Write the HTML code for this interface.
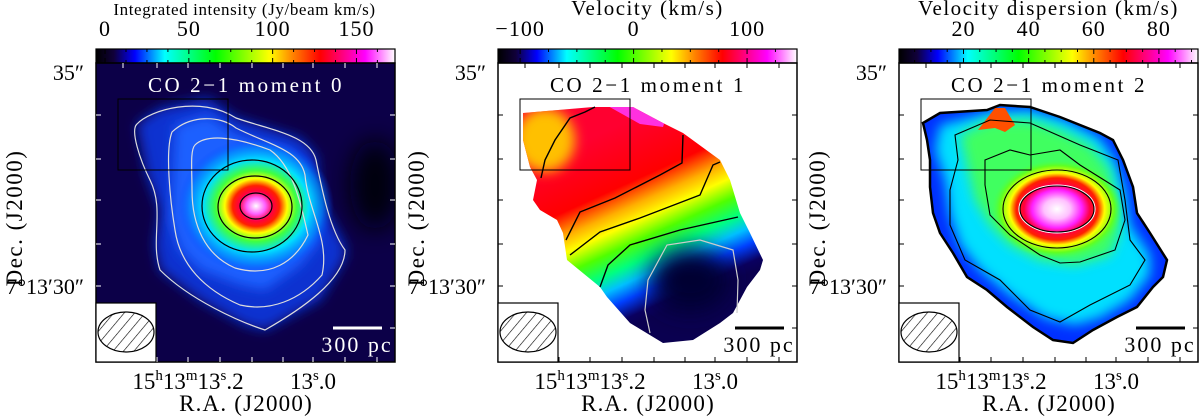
<!DOCTYPE html>
<html><head><meta charset="utf-8">
<style>
html,body{margin:0;padding:0;background:#fff;}
svg{display:block;font-family:"Liberation Serif",serif;}
</style></head>
<body>
<svg id="fig" width="1200" height="417" viewBox="0 0 1200 417" xmlns="http://www.w3.org/2000/svg">
<defs>
  <linearGradient id="cmap" x1="0" x2="1" y1="0" y2="0">
    <stop offset="0" stop-color="#000000"/>
    <stop offset="0.06" stop-color="#10003a"/>
    <stop offset="0.13" stop-color="#0000ff"/>
    <stop offset="0.23" stop-color="#00ffff"/>
    <stop offset="0.40" stop-color="#00ff00"/>
    <stop offset="0.58" stop-color="#ffff00"/>
    <stop offset="0.66" stop-color="#ff8000"/>
    <stop offset="0.75" stop-color="#ff0000"/>
    <stop offset="0.90" stop-color="#ff00ff"/>
    <stop offset="1" stop-color="#ffffff"/>
  </linearGradient>
  <pattern id="hatch" patternUnits="userSpaceOnUse" width="8" height="8" patternTransform="rotate(40)">
    <line x1="0" y1="0" x2="0" y2="8" stroke="#000" stroke-width="1.2"/>
  </pattern>
  <filter id="blur6" x="-50%" y="-50%" width="200%" height="200%"><feGaussianBlur stdDeviation="6"/></filter>
  <filter id="blur12" x="-50%" y="-50%" width="200%" height="200%"><feGaussianBlur stdDeviation="12"/></filter>
  <radialGradient id="peak0" cx="0.5" cy="0.5" r="0.5">
    <stop offset="0" stop-color="#ffffff"/>
    <stop offset="0.12" stop-color="#ff60ff"/>
    <stop offset="0.22" stop-color="#ff0040"/>
    <stop offset="0.3" stop-color="#ff2000"/>
    <stop offset="0.4" stop-color="#ffff00"/>
    <stop offset="0.52" stop-color="#40ff40"/>
    <stop offset="0.68" stop-color="#00e0ff"/>
    <stop offset="0.85" stop-color="#0090ff" stop-opacity="0.7"/>
    <stop offset="1" stop-color="#0040ff" stop-opacity="0"/>
  </radialGradient>
  <linearGradient id="vel" gradientUnits="userSpaceOnUse" x1="612" y1="128" x2="690" y2="300">
    <stop offset="0" stop-color="#ff0030"/>
    <stop offset="0.3" stop-color="#ff0000"/>
    <stop offset="0.42" stop-color="#ffb000"/>
    <stop offset="0.5" stop-color="#ffff00"/>
    <stop offset="0.6" stop-color="#50ff00"/>
    <stop offset="0.7" stop-color="#00ff80"/>
    <stop offset="0.78" stop-color="#00c0ff"/>
    <stop offset="0.86" stop-color="#0040ff"/>
    <stop offset="0.95" stop-color="#0a0060"/>
    <stop offset="1" stop-color="#0a0050"/>
  </linearGradient>
  <radialGradient id="disp" cx="0.5" cy="0.5" r="0.5">
    <stop offset="0" stop-color="#ffffff"/>
    <stop offset="0.2" stop-color="#ffc0ff"/>
    <stop offset="0.38" stop-color="#ff20ff"/>
    <stop offset="0.5" stop-color="#ff0040"/>
    <stop offset="0.62" stop-color="#ff2000"/>
    <stop offset="0.72" stop-color="#ffff00"/>
    <stop offset="0.87" stop-color="#60ff20"/>
    <stop offset="1" stop-color="#40ff60" stop-opacity="0"/>
  </radialGradient>
  <clipPath id="clip1"><rect x="96" y="63" width="299" height="299"/></clipPath>
  <clipPath id="vshape"><polygon points="523,113 593,107 633,107 663,123 683,133 720,160 730,180 740,213 750,233 763,260 760,270 747,287 733,313 720,323 693,340 663,343 630,323 607,297 600,287 567,260 563,233 557,220 540,210 533,200 537,180 530,167 523,140"/></clipPath>
  <clipPath id="dshape"><polygon points="923,123 940,113 987,110 1000,105 1030,107 1060,117 1100,133 1113,140 1123,160 1133,187 1137,213 1150,233 1167,260 1163,277 1153,287 1137,307 1117,317 1093,330 1073,343 1053,340 1033,327 1007,307 987,290 967,277 953,253 940,233 933,213 930,187 930,160 927,140"/></clipPath>
</defs>

<!-- Panel 1 image -->
<g id="img1" clip-path="url(#clip1)">
  <rect x="96" y="63" width="299" height="299" fill="#0c0048"/>
  <ellipse cx="375" cy="185" rx="25" ry="45" fill="#000010" filter="url(#blur12)"/>
  <path d="M137,124 L160,108 208,98 236,118 300,138 316,155 320,200 345,245 345,258 320,300 265,330 245,325 200,300 160,270 155,245 160,210 147,175 Z" fill="#1030d0" filter="url(#blur6)"/>
  <path d="M175,125 L208,115 236,135 290,150 305,170 305,210 320,240 300,265 265,290 240,285 200,270 180,250 170,220 172,180 Z" fill="#1a60ff" filter="url(#blur6)"/>
  <ellipse cx="256" cy="206" rx="78" ry="68" fill="url(#peak0)"/>
  <g fill="none" stroke-width="1.2" stroke-linejoin="round">
    <path d="M137,124 C150,110 200,95 236,118 C270,130 310,135 316,160 C322,190 330,230 345,250 C345,280 300,310 265,330 C240,322 190,300 160,270 C150,240 165,210 150,180 C140,160 130,130 137,124 Z" stroke="#ddd"/>
    <path d="M172,132 C190,115 220,115 236,128 C270,145 300,150 305,175 C308,210 330,240 322,275 C300,300 270,312 240,305 C205,290 180,265 175,230 C170,200 165,150 172,132 Z" stroke="#ddd"/>
    <path d="M195,145 C205,135 230,135 270,150 C292,165 300,200 308,235 C295,262 270,278 235,268 C205,255 192,225 192,190 C192,170 190,150 195,145 Z" stroke="#ddd"/>
    <ellipse cx="252" cy="206" rx="50" ry="46" stroke="#000"/>
    <ellipse cx="255" cy="207" rx="37" ry="31" stroke="#000"/>
    <ellipse cx="256" cy="206" rx="16" ry="13" stroke="#000"/>
  </g>
</g>

<!-- Panel 2 image -->
<g id="img2">
  <rect x="523" y="100" width="250" height="250" fill="url(#vel)" clip-path="url(#vshape)"/>
  <g clip-path="url(#vshape)">
    <ellipse cx="545" cy="140" rx="30" ry="32" fill="#ffc000" filter="url(#blur6)"/>
    <polygon points="606,105 670,105 663,127 640,124 615,110" fill="#ff30e0"/>
    <ellipse cx="690" cy="280" rx="40" ry="32" fill="#000030" filter="url(#blur12)"/>
  </g>
  <g fill="none" stroke="#000" stroke-width="1.4">
    <path d="M541,178 L545,160 555,140 570,118 585,112 595,107"/>
    <path d="M566,240 L580,212 615,198 660,175 682,163 683,135"/>
    <path d="M570,255 L600,232 640,218 700,195 713,165 720,162"/>
    <path d="M600,287 L608,265 630,245 680,230 738,217"/>
  </g>
  <path d="M650,333 L645,310 648,280 667,245 700,240 733,250 738,280 737,313" fill="none" stroke="#ccc" stroke-width="1.2"/>
</g>

<!-- Panel 3 image -->
<g id="img3">
  <g clip-path="url(#dshape)">
    <rect x="900" y="100" width="300" height="260" fill="#0030ff"/>
    <polygon points="940,125 990,112 1030,110 1065,120 1100,138 1115,160 1125,190 1130,225 1150,255 1150,275 1130,300 1100,318 1075,325 1045,318 1010,295 980,270 960,245 950,215 945,180 935,150" fill="#00e0ff" filter="url(#blur6)"/>
    <polygon points="960,135 990,120 1030,120 1060,130 1090,145 1110,170 1115,200 1120,230 1110,255 1075,265 1040,260 1010,245 990,225 975,200 968,170" fill="#40ff60" filter="url(#blur6)"/>
    <ellipse cx="1057" cy="209" rx="66" ry="50" fill="url(#disp)"/>
    <polygon points="978,130 995,108 1005,108 1015,125 1005,132 995,128" fill="#ff5000"/>
  </g>
  <polygon points="923,123 940,113 987,110 1000,105 1030,107 1060,117 1100,133 1113,140 1123,160 1133,187 1137,213 1150,233 1167,260 1163,277 1153,287 1137,307 1117,317 1093,330 1073,343 1053,340 1033,327 1007,307 987,290 967,277 953,253 940,233 933,213 930,187 930,160 927,140" fill="none" stroke="#000" stroke-width="2.5"/>
  <g fill="none" stroke="#000" stroke-width="1.1">
    <path d="M955,135 L990,120 1030,123 1080,145 1118,160 1125,200 1130,240 1145,260 1130,285 1090,305 1060,322 1030,310 1000,280 965,260 950,225 950,190 958,160 Z"/>
    <path d="M985,160 L1010,150 1030,155 1060,150 1080,165 1120,190 1125,220 1115,250 1080,262 1060,263 1040,255 1010,235 990,215 985,185 Z"/>
    <ellipse cx="1057" cy="209" rx="54" ry="39"/>
    <ellipse cx="1057" cy="209" rx="38" ry="24" stroke="#fff"/>
    <ellipse cx="1057" cy="209" rx="37" ry="23"/>
  </g>
</g>

<g id="panels"></g>
</svg>
<script>
const cbMin = [-5.4, -119.5, 0.2];
const cbMax = [173, 144, 92];
const cbTicks0 = [0, 50, 100, 150];
const cbTicks1 = [-100, 0, 100];
const cbTicks2 = [20, 40, 60, 80];
const cbTitles = ["Integrated intensity (Jy/beam km/s)", "Velocity (km/s)", "Velocity dispersion (km/s)"];
const panelTitles = ["CO 2\u22121 moment 0", "CO 2\u22121 moment 1", "CO 2\u22121 moment 2"];
const NS = "http://www.w3.org/2000/svg";
const root = document.getElementById("panels");
const offs = [0, 402, 803];
const W = 299, X0 = 96, CBY = 49, CBH = 14, Y0 = 63, Y1 = 362;
function mk(tag, attrs, parent, text) {
  const e = document.createElementNS(NS, tag);
  for (const k in attrs) e.setAttribute(k, attrs[k]);
  if (text !== undefined) e.textContent = text;
  parent.appendChild(e);
  return e;
}
function fmt(v){ return v < 0 ? "\u2212" + Math.abs(v) : String(v); }
const allTicks = [cbTicks0, cbTicks1, cbTicks2];
for (let p = 0; p < 3; p++) {
  const g = mk("g", {transform: "translate(" + offs[p] + ",0)"}, root);
  
  
  const xs = v => X0 + (v - cbMin[p]) / (cbMax[p] - cbMin[p]) * W;
  const cb = mk("rect", {x: X0, y: CBY, width: W, height: CBH, fill: "url(#cmap)", stroke: "#000", "stroke-width": 1.2}, g);
  
  
  const ttl = mk("text", {x: X0 + W / 2 + (p === 0 ? -1 : 0), y: 15, "text-anchor": "middle", "font-size": p === 0 ? 17 : 21, "letter-spacing": p === 0 ? 0.6 : 1.5}, g, cbTitles[p]);
  
  
  const tks = allTicks[p];
  const step = (tks[1] - tks[0]) / 4;
  for (let v = tks[0] - 8 * step; v <= cbMax[p]; v += step) {
    if (v < cbMin[p]) continue;
    const x = xs(v);
    const r = (v - tks[0]) / (step * 4);
    const major = Math.abs(r - Math.round(r)) < 1e-6;
    mk("line", {x1: x, x2: x, y1: CBY, y2: CBY + (major ? 5 : 3), stroke: "#000", "stroke-width": 1}, g);
    mk("line", {x1: x, x2: x, y1: CBY + CBH, y2: CBY + CBH - (major ? 5 : 3), stroke: "#000", "stroke-width": 1}, g);
  }
  tks.forEach(v => {
    const t = mk("text", {x: xs(v), y: 36, "text-anchor": "middle", "font-size": 22, "letter-spacing": 1}, g, fmt(v));
    
    
  });
  const fr = mk("rect", {x: X0, y: Y0, width: W, height: Y1 - Y0, fill: "none", stroke: "#000", "stroke-width": 1.5}, g);
  
  
  const raT = [123, 157, 188, 220, 252, 283, 313, 345, 377];
  raT.forEach(x => {
    mk("line", {x1: x, x2: x, y1: Y1, y2: Y1 - 5, stroke: p === 0 ? "#fff" : "#000"}, g);
    mk("line", {x1: x, x2: x, y1: Y0, y2: Y0 + 5, stroke: p === 0 ? "#fff" : "#000"}, g);
  });
  const decT = [115, 159, 200, 244, 286, 328];
  decT.forEach(y => {
    mk("line", {x1: X0, x2: X0 + 5, y1: y, y2: y, stroke: p === 0 ? "#fff" : "#000"}, g);
    mk("line", {x1: X0 + W, x2: X0 + W - 5, y1: y, y2: y, stroke: p === 0 ? "#fff" : "#000"}, g);
  });
  const ib = mk("rect", {x: 118, y: 99, width: 110, height: 71, fill: "none", stroke: "#000", "stroke-width": 1}, g);
  
  
  const pt = mk("text", {x: 246, y: 92, "text-anchor": "middle", "font-size": 21, fill: p === 0 ? "#fff" : "#000", "letter-spacing": "2.6"}, g, panelTitles[p]);
  
  
  const bb = mk("rect", {x: X0, y: 303, width: 60, height: 59, fill: "#fff", stroke: "#000", "stroke-width": 1.2}, g);
  
  
  const be = mk("ellipse", {cx: 126, cy: 332, rx: 28, ry: 20, fill: "url(#hatch)", stroke: "#000", "stroke-width": 1.2}, g);
  
  
  const sc = p === 0 ? "#fff" : "#000";
  const sb = mk("line", {x1: 333, x2: 382, y1: 328, y2: 328, stroke: sc, "stroke-width": 3}, g);
  
  
  const st = mk("text", {x: 357, y: 352, "text-anchor": "middle", "font-size": 22, "letter-spacing": 2, fill: sc}, g, "300 pc");
  
  
  const rl = mk("text", {x: 188, y: 389, "text-anchor": "middle", "font-size": 23}, g);
  
  
  rl.innerHTML = '15<tspan dy="-9" font-size="15">h</tspan><tspan dy="9">13</tspan><tspan dy="-9" font-size="15">m</tspan><tspan dy="9">13</tspan><tspan dy="-9" font-size="15">s</tspan><tspan dy="9">.2</tspan>';
  const rl2 = mk("text", {x: 313, y: 389, "text-anchor": "middle", "font-size": 23}, g);
  
  
  rl2.innerHTML = '13<tspan dy="-9" font-size="15">s</tspan><tspan dy="9">.0</tspan>';
  const xl = mk("text", {x: 246, y: 411, "text-anchor": "middle", "font-size": 23, "letter-spacing": 1.2}, g, "R.A. (J2000)");
  
  
  const d1 = mk("text", {x: 84, y: 80, "text-anchor": "end", "font-size": 22}, g, "35\u2033");
  
  
  const d2 = mk("text", {x: 84, y: 294, "text-anchor": "end", "font-size": 22}, g, "7\u00b013\u203230\u2033");
  
  
  const yl = mk("text", {x: 0, y: 0, "text-anchor": "middle", "font-size": 23, "letter-spacing": 1.5, transform: "translate(22,218) rotate(-90)"}, g, "Dec. (J2000)");
  
  
}
</script>
</body></html>
